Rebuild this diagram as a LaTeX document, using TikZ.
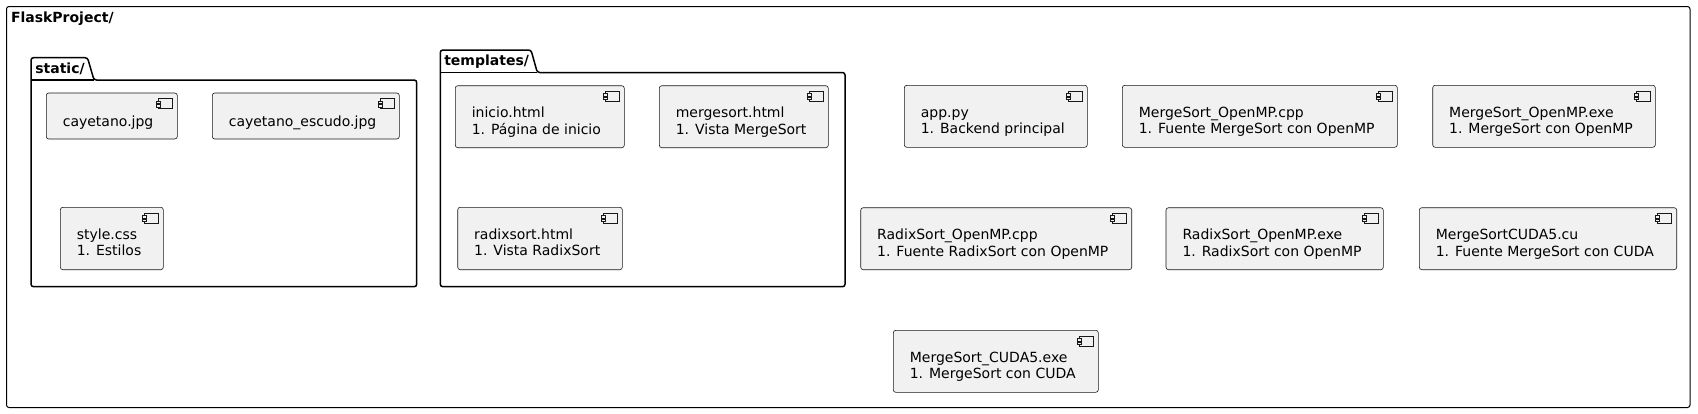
\documentclass[tikz,border=0pt]{standalone}
\usepackage{fontspec}
\setmainfont{DejaVu Sans}
\usetikzlibrary{calc}
\definecolor{compfill}{HTML}{F1F1F1}
\definecolor{compline}{HTML}{181818}
\tikzset{
  comp/.style={draw=compline, fill=compfill, line width=0.6pt, rounded corners=2.5pt, inner sep=0pt, outer sep=0pt},
  ctext/.style={font=\fontsize{14}{16.5}\selectfont, inner sep=0pt, outer sep=0pt, anchor=base west, text=black},
  titletext/.style={font=\bfseries\fontsize{14}{16.5}\selectfont, inner sep=0pt, outer sep=0pt, anchor=base west, text=black},
  iconst/.style={draw=compline, fill=compfill, line width=0.6pt},
  pkg/.style={draw=black, line width=1.5pt, rounded corners=2.5pt},
  outerframe/.style={draw=black, line width=1pt, rounded corners=2.5pt},
}
\newcommand\mkcomp[5]{%
  \pgfmathsetmacro\mycw{#4-#2}\pgfmathsetmacro\mych{#5-#3}%
  \node[comp, minimum width=\mycw pt, minimum height=\mych pt, anchor=north west] (#1) at (#2,#3) {};%
  \draw[iconst] ($(#1.north east)+(-19,5.5)$) rectangle ++(14,10);%
  \draw[iconst] ($(#1.north east)+(-21,8)$) rectangle ++(4,2.5);%
  \draw[iconst] ($(#1.north east)+(-21,11.5)$) rectangle ++(4,2.5);%
}
\newcommand\twolines[3]{%
  \node[ctext] (#1-a) at ($(#1.north west)+(16.5,32)$) {#2};%
  \node[ctext] (#1-b) at ($(#1.north west)+(16.5,48.5)$) {#3};%
}
\newcommand\oneline[2]{%
  \node[ctext] (#1-a) at ($(#1.north west)+(16.5,33)$) {#2};%
}
\begin{document}
\begin{tikzpicture}[x=1pt,y=-1pt]
\useasboundingbox (0,0) rectangle (1698,413);
% outer frame
\draw[outerframe] (6.5,6.5) rectangle (1690,407.5);
\node[titletext] (flask) at (11,22) {FlaskProject/};
% static package
\draw[pkg] (31,286.7) -- (31,57.7) -- (87.5,57.7) -- (94,80) -- (416.7,80) -- (416.7,286.7) -- cycle;
\draw[pkg, rounded corners=0pt] (31,80) -- (94,80);
\node[titletext] (static-t) at (35.3,73.5) {static/};
% templates package
\draw[pkg] (440.3,286.7) -- (440.3,50) -- (531,50) -- (537.3,72.5) -- (845,72.5) -- (845,286.7) -- cycle;
\draw[pkg, rounded corners=0pt] (440.3,72.5) -- (537.3,72.5);
\node[titletext] (templates-t) at (444.3,65.5) {templates/};
% static components
\mkcomp{cay}{46.3}{93}{177.3}{139}
\oneline{cay}{cayetano.jpg}
\mkcomp{esc}{212.3}{93}{399.3}{139}
\oneline{esc}{cayetano\_escudo.jpg}
\mkcomp{sty}{60.3}{207.3}{163.3}{269.7}
\twolines{sty}{style.css}{1. Estilos}
% templates components
\mkcomp{ini}{455.3}{85.7}{624.3}{147.7}
\twolines{ini}{inicio.html}{1. Página de inicio}
\mkcomp{mer}{659.3}{85.7}{828.3}{147.7}
\twolines{mer}{mergesort.html}{1. Vista MergeSort}
\mkcomp{rad}{457.7}{207.3}{622.3}{269.7}
\twolines{rad}{radixsort.html}{1. Vista RadixSort}
% top-level components
\mkcomp{app}{904.3}{85.3}{1087.3}{147.3}
\twolines{app}{app.py}{1. Backend principal}
\mkcomp{mcpp}{1122.3}{85.3}{1397.3}{147.3}
\twolines{mcpp}{MergeSort\_OpenMP.cpp}{1. Fuente MergeSort con OpenMP}
\mkcomp{mexe}{1432.7}{85.3}{1655.3}{147.3}
\twolines{mexe}{MergeSort\_OpenMP.exe}{1. MergeSort con OpenMP}
\mkcomp{rcpp}{860.7}{207.7}{1131.7}{269.7}
\twolines{rcpp}{RadixSort\_OpenMP.cpp}{1. Fuente RadixSort con OpenMP}
\mkcomp{rexe}{1166}{207.7}{1383.3}{269.7}
\twolines{rexe}{RadixSort\_OpenMP.exe}{1. RadixSort con OpenMP}
\mkcomp{mcu}{1419.3}{207.7}{1676.7}{269.7}
\twolines{mcu}{MergeSortCUDA5.cu}{1. Fuente MergeSort con CUDA}
\mkcomp{cexe}{893.3}{330.3}{1098.3}{392.3}
\twolines{cexe}{MergeSort\_CUDA5.exe}{1. MergeSort con CUDA}
\end{tikzpicture}
\end{document}
